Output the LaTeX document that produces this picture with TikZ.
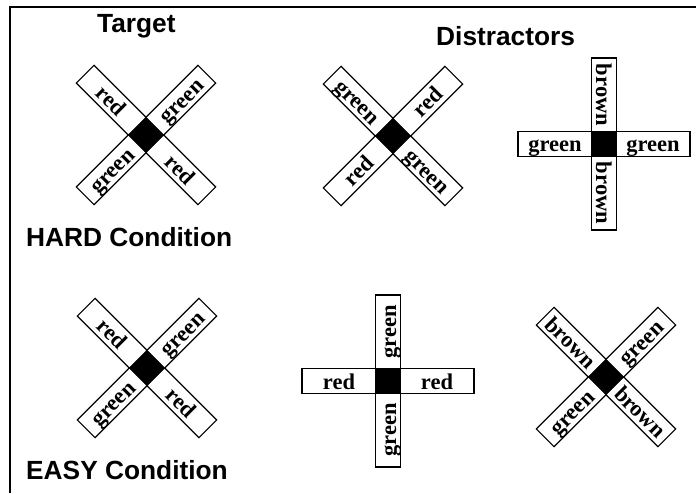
\documentclass[tikz,border=0pt]{standalone}
\usepackage{fontspec}
\setmainfont{Liberation Serif}
\newfontfamily\headfont{Liberation Sans}
\begin{document}
\begin{tikzpicture}[x=1pt,y=1pt,
  arm/.style={draw, line width=1.2pt, fill=white, minimum width=74pt, minimum height=25pt,
    inner sep=0pt, text height=17pt, text depth=1pt,
    font=\fontsize{22.5}{22.5}\selectfont\bfseries},
  hub/.style={fill=black, minimum size=25.5pt, inner sep=0pt},
  head/.style={font=\headfont\bfseries\fontsize{26.3}{26.3}\selectfont, anchor=base west, inner sep=0pt},
  frame/.style={line width=1.4pt}]
\useasboundingbox (0,0) rectangle (696,493);
% #1 name, #2 x, #3 y, #4 dirA, #5 text rot A, #6 text A, #7 dirB, #8 text rot B, #9 text B
\newcommand\mycross[9]{%
  \coordinate (#1) at (#2,#3);
  \node[arm, rotate=#5] (#1A1) at ([shift={(#4:49pt)}]#1) {#6};
  \node[arm, rotate=#5] (#1A2) at ([shift={(#4+180:49pt)}]#1) {#6};
  \node[arm, rotate=#8] (#1B1) at ([shift={(#7:49pt)}]#1) {#9};
  \node[arm, rotate=#8] (#1B2) at ([shift={(#7+180:49pt)}]#1) {#9};
  \node[hub, rotate=#4] (#1H) at (#1) {};
}
% frame
\coordinate (fbl) at (10,0);
\coordinate (ftl) at (10,486);
\coordinate (ftr) at (696,486);
\draw[frame] (fbl) -- (ftl) -- (ftr);
% headings
\node[head] (target) at (97,460) {Target};
\node[head] (distr) at (436,447) {Distractors};
\node[head] (hard) at (26,246) {HARD Condition};
\node[head] (easy) at (26,14) {EASY Condition};
% hard row
\mycross{ht}{146}{358}{-45}{-45}{red}{45}{45}{green}
\mycross{hda}{393}{357}{-45}{-45}{green}{45}{45}{red}
\mycross{hdb}{604}{349}{0}{0}{green}{90}{-90}{brown}
% easy row
\mycross{et}{147}{125}{-45}{-45}{red}{45}{45}{green}
\mycross{eda}{388}{112}{0}{0}{red}{90}{90}{green}
\mycross{edb}{606}{116}{-45}{-45}{brown}{45}{45}{green}
\end{tikzpicture}
\end{document}
